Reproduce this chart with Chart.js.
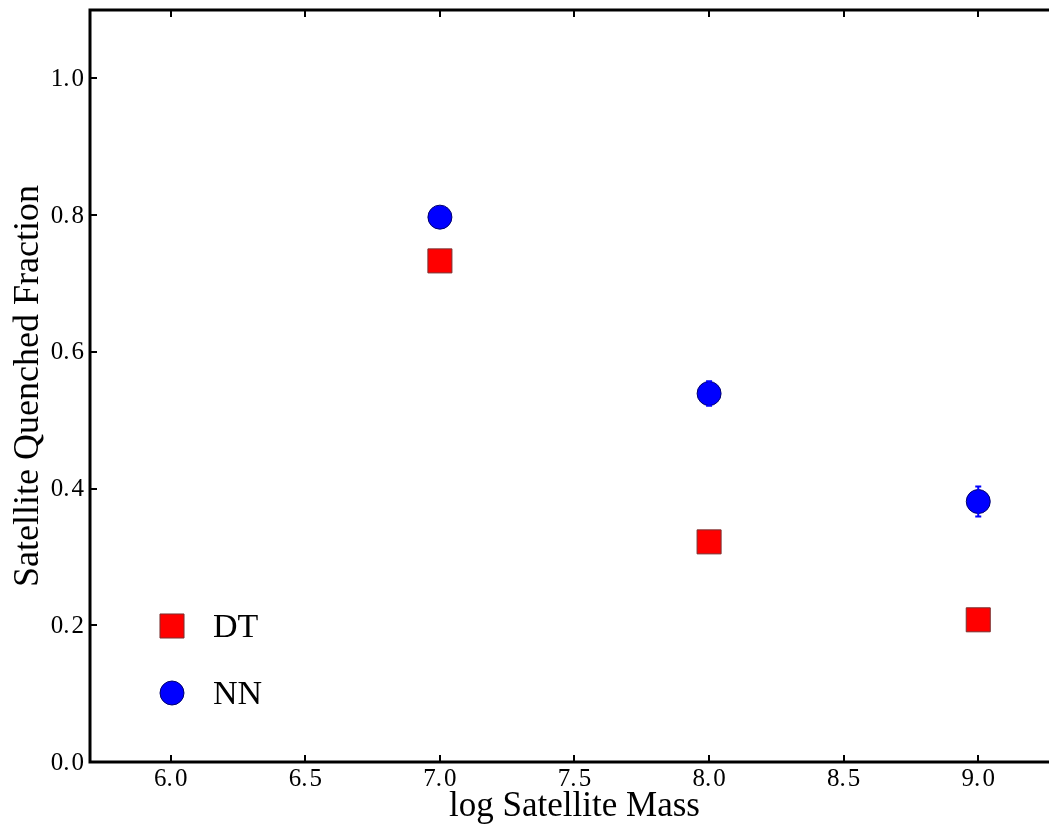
<!DOCTYPE html>
<html lang="en">
<head>
<meta charset="UTF-8">
<title>Satellite Quenched Fraction</title>
<script src="https://cdn.jsdelivr.net/npm/chart.js"></script>
<style>
  html, body { margin: 0; padding: 0; background: #fff; overflow: hidden; }
  #quenchChart { display: block; }
</style>
</head>
<body>
<canvas id="quenchChart" width="1070" height="828"></canvas>
<script>
  // values
  const massBins = [7.0, 8.0, 9.0];
  const dtFraction = [0.733, 0.322, 0.208];
  const nnFraction = [0.797, 0.539, 0.381];
  const nnError = [0.005, 0.018, 0.022];
  const xTicks = [6.0, 6.5, 7.0, 7.5, 8.0, 8.5, 9.0];
  const yTicks = [0.0, 0.2, 0.4, 0.6, 0.8, 1.0];

  const serif = '"Liberation Serif", "DejaVu Serif", serif';
  const fmt = v => v.toFixed(1).replace('.', '.\u200A');

  // error bars on the NN points
  const errorBars = {
    id: 'errorBars',
    afterDatasetsDraw(chart) {
      const { ctx, scales: { x, y } } = chart;
      ctx.save();
      ctx.strokeStyle = '#0000ff';
      ctx.lineWidth = 2;
      massBins.forEach((m, i) => {
        const px = x.getPixelForValue(m);
        const top = y.getPixelForValue(nnFraction[i] + nnError[i]);
        const bot = y.getPixelForValue(nnFraction[i] - nnError[i]);
        ctx.beginPath();
        ctx.moveTo(px, top); ctx.lineTo(px, bot);
        ctx.moveTo(px - 3, top); ctx.lineTo(px + 3, top);
        ctx.moveTo(px - 3, bot); ctx.lineTo(px + 3, bot);
        ctx.stroke();
      });
      ctx.restore();
    }
  };

  // frame, inward ticks on all sides and the tick labels
  const frameTicks = {
    id: 'frameTicks',
    afterDraw(chart) {
      const { ctx, chartArea: a, scales: { x, y } } = chart;
      ctx.save();
      ctx.strokeStyle = '#000';
      ctx.lineWidth = 2;
      ctx.beginPath();
      xTicks.forEach(v => {
        const px = Math.round(x.getPixelForValue(v));
        ctx.moveTo(px, a.bottom); ctx.lineTo(px, a.bottom - 7);
        ctx.moveTo(px, a.top); ctx.lineTo(px, a.top + 7);
      });
      yTicks.forEach(v => {
        const py = Math.round(y.getPixelForValue(v));
        ctx.moveTo(a.left, py); ctx.lineTo(a.left + 7, py);
        ctx.moveTo(a.right, py); ctx.lineTo(a.right - 7, py);
      });
      ctx.stroke();
      ctx.lineWidth = 3;
      ctx.strokeRect(a.left, a.top, a.right - a.left, a.bottom - a.top);

      ctx.fillStyle = '#000';
      ctx.font = '25px ' + serif;
      ctx.textAlign = 'center';
      ctx.textBaseline = 'middle';
      xTicks.forEach(v => ctx.fillText(fmt(v), x.getPixelForValue(v), a.bottom + 17));
      ctx.textAlign = 'right';
      yTicks.forEach(v => ctx.fillText(fmt(v), a.left - 6, y.getPixelForValue(v) + 1));
      ctx.restore();
    }
  };

  // legend drawn inside the axes, no frame
  const innerLegend = {
    id: 'innerLegend',
    afterDraw(chart) {
      const { ctx, chartArea: a } = chart;
      ctx.save();
      ctx.font = '34px ' + serif;
      ctx.textBaseline = 'middle';
      chart.data.datasets.forEach((ds, i) => {
        const cx = a.left + 82;
        const cy = a.bottom - 136 + i * 67;
        ctx.fillStyle = ds.backgroundColor;
        ctx.strokeStyle = ds.borderColor;
        ctx.lineWidth = 1;
        Chart.helpers.drawPoint(ctx, { pointStyle: ds.pointStyle, radius: ds.pointRadius, borderWidth: 1 }, cx, cy);
        ctx.fillStyle = '#000';
        ctx.fillText(ds.label, cx + 41, cy + 2);
      });
      ctx.restore();
    }
  };

  new Chart(document.getElementById('quenchChart'), {
    type: 'scatter',
    data: {
      datasets: [
        {
          label: 'DT',
          data: massBins.map((m, i) => ({ x: m, y: dtFraction[i] })),
          pointStyle: 'rect',
          pointRadius: 17,
          backgroundColor: '#ff0000',
          borderColor: '#7a3030',
          borderWidth: 1
        },
        {
          label: 'NN',
          data: massBins.map((m, i) => ({ x: m, y: nnFraction[i] })),
          pointStyle: 'circle',
          pointRadius: 12,
          backgroundColor: '#0000ff',
          borderColor: '#00006a',
          borderWidth: 1
        }
      ]
    },
    options: {
      responsive: false,
      animation: false,
      layout: { autoPadding: false, padding: { top: 10, right: 11, left: 0, bottom: 0 } },
      plugins: { legend: { display: false }, tooltip: { enabled: false } },
      scales: {
        x: {
          type: 'linear',
          min: 5.7,
          max: 9.3,
          grid: { display: false },
          border: { display: false },
          afterBuildTicks: s => { s.ticks = xTicks.map(v => ({ value: v })); },
          afterFit: s => { s.height = 66; },
          ticks: { display: false },
          title: {
            display: true,
            text: 'log Satellite Mass',
            color: '#000',
            font: { family: serif, size: 35 },
            padding: { top: 0, bottom: 0 }
          }
        },
        y: {
          type: 'linear',
          min: 0,
          max: 1.1,
          grid: { display: false },
          border: { display: false },
          afterBuildTicks: s => { s.ticks = yTicks.map(v => ({ value: v })); },
          afterFit: s => { s.width = 90; },
          ticks: { display: false },
          title: {
            display: true,
            text: 'Satellite Quenched Fraction',
            color: '#000',
            font: { family: serif, size: 36 },
            padding: { top: 7, bottom: 0 }
          }
        }
      }
    },
    plugins: [errorBars, frameTicks, innerLegend]
  });
</script>
</body>
</html>
